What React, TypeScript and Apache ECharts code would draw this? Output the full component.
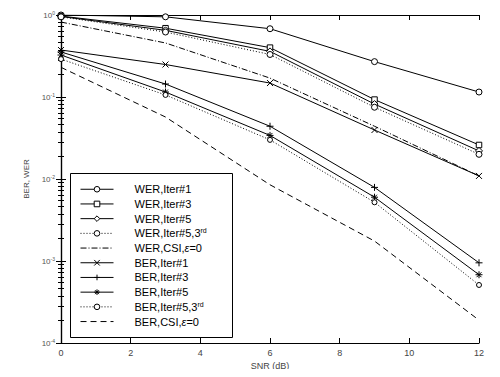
import React, { useEffect, useRef } from "react";
import * as echarts from "echarts";

const snr = [0, 3, 6, 9, 12];
const werIter1 = [1.0, 0.95, 0.68, 0.27, 0.115];
const werIter3 = [0.97, 0.69, 0.4, 0.093, 0.026];
const werIter5 = [0.96, 0.65, 0.36, 0.082, 0.022];
const werIter53 = [0.95, 0.62, 0.33, 0.075, 0.02];
const werCsi = [0.82, 0.456, 0.17, 0.044, 0.0109];
const berIter1 = [0.374, 0.249, 0.148, 0.0396, 0.0109];
const berIter3 = [0.354, 0.144, 0.044, 0.0079, 0.00095];
const berIter5 = [0.325, 0.115, 0.034, 0.006, 0.00068];
const berIter53 = [0.29, 0.106, 0.03, 0.0052, 0.00051];
const berCsi = [0.23, 0.057, 0.0085, 0.00175, 0.00019];

const names = [
  "WER,Iter#1",
  "WER,Iter#3",
  "WER,Iter#5",
  "WER,Iter#5,3rd",
  "WER,CSI,ε=0",
  "BER,Iter#1",
  "BER,Iter#3",
  "BER,Iter#5",
  "BER,Iter#5,3rd",
  "BER,CSI,ε=0",
];

const CIRCLE = "path://M0,5A5,5 0 1,0 10,5A5,5 0 1,0 0,5Z";
const SQUARE = "path://M0,0L10,0L10,10L0,10Z";
const DIAMOND = "path://M5,0L10,5L5,10L0,5Z";
const X_PATH = "path://M0,0L10,10M10,0L0,10";
const PLUS_PATH = "path://M5,0L5,10M0,5L10,5";
const STAR_PATH = "path://M5,0L5,10M0,5L10,5M1.5,1.5L8.5,8.5M8.5,1.5L1.5,8.5";

export default function App() {
  const ref = useRef<HTMLDivElement>(null);
  useEffect(() => {
    if (!ref.current) return;
    const chart = echarts.init(ref.current, undefined, { renderer: "svg" });
    const mk = (
      name: string,
      vals: number[],
      symbol: string,
      type: any,
      size = 6
    ) => ({
      name,
      type: "line",
      data: snr.map((x, i) => [x, vals[i]]),
      symbol,
      symbolSize: size,
      showSymbol: symbol !== "none",
      lineStyle: { color: "#000", width: 1, type },
      itemStyle: { color: "#fff", borderColor: "#000", borderWidth: 1 },
      emphasis: { disabled: true },
    });
    const series: any[] = [
      mk(names[0], werIter1, CIRCLE, "solid"),
      mk(names[1], werIter3, SQUARE, "solid", 5.5),
      mk(names[2], werIter5, DIAMOND, "solid", 7),
      mk(names[3], werIter53, CIRCLE, [1, 2]),
      mk(names[4], werCsi, "none", [6, 2, 1, 2]),
      mk(names[5], berIter1, X_PATH, "solid"),
      mk(names[6], berIter3, PLUS_PATH, "solid", 7),
      mk(names[7], berIter5, STAR_PATH, "solid", 7),
      mk(names[8], berIter53, CIRCLE, [1, 2], 5),
      mk(names[9], berCsi, "none", [6, 4]),
    ];
    const sup = (v: number) => `{b|10}{e|${Math.round(Math.log10(v))}}`;
    const legendFmt = (n: string) => {
      if (n.endsWith(",3rd")) return `${n.slice(0, -2)}{s|rd}`;
      if (n.includes("ε")) return n.replace("ε", "{i|ε}");
      return n;
    };
    const legendData = names.map((n) =>
      n.includes("CSI") ? { name: n, itemStyle: { opacity: 0 } } : { name: n }
    );
    chart.setOption({
      animation: false,
      backgroundColor: "#fff",
      textStyle: { fontFamily: "Liberation Sans, Arial, sans-serif" },
      grid: { left: 61, right: 21, top: 15, bottom: 34 },
      xAxis: [
        {
          type: "value",
          min: 0,
          max: 12,
          interval: 2,
          name: "SNR (dB)",
          nameLocation: "middle",
          nameGap: 15,
          nameTextStyle: { fontSize: 9, color: "#444" },
          axisLine: { lineStyle: { color: "#000", width: 1.2 } },
          axisTick: { inside: true, length: 5, lineStyle: { color: "#000" } },
          axisLabel: { fontSize: 9, color: "#444", margin: 5 },
          splitLine: { show: false },
        },
        {
          type: "value",
          position: "top",
          min: 0,
          max: 12,
          interval: 2,
          axisLine: { lineStyle: { color: "#000", width: 1.2 } },
          axisTick: { inside: true, length: 5, lineStyle: { color: "#000" } },
          axisLabel: { show: false },
          splitLine: { show: false },
        },
      ],
      yAxis: [
        {
          type: "log",
          min: 1e-4,
          max: 1,
          logBase: 10,
          name: "BER, WER",
          nameLocation: "middle",
          nameGap: 22,
          nameTextStyle: { fontSize: 8, color: "#444" },
          axisLine: { show: true, lineStyle: { color: "#000", width: 1.2 } },
          axisTick: { inside: true, length: 5, lineStyle: { color: "#000" } },
          minorTick: { show: true, splitNumber: 10, length: 3, lineStyle: { color: "#000" } },
          axisLabel: {
            formatter: sup,
            margin: 6,
            rich: {
              b: { fontSize: 8, color: "#555" },
              e: { fontSize: 5, color: "#555", verticalAlign: "top", padding: [0, 0, 5, 0] },
            },
          },
          splitLine: { show: false },
        },
        {
          type: "log",
          min: 1e-4,
          max: 1,
          logBase: 10,
          position: "right",
          axisLine: { show: true, lineStyle: { color: "#000", width: 1.2 } },
          axisTick: { inside: true, length: 5, lineStyle: { color: "#000" } },
          minorTick: { show: true, splitNumber: 10, length: 3, lineStyle: { color: "#000" } },
          axisLabel: { show: false },
          splitLine: { show: false },
        },
      ],
      legend: {
        orient: "vertical",
        left: 80,
        top: 183,
        z: 10,
        itemWidth: 33,
        itemHeight: 7,
        itemGap: 2.2,
        padding: 0,
        data: legendData,
        formatter: legendFmt,
        inactiveColor: "#000",
        selectedMode: false,
        lineStyle: { width: 1 },
        itemStyle: { borderWidth: 1 },
        textStyle: {
          fontSize: 11,
          lineHeight: 12.5,
          color: "#000",
          padding: [0, 0, 0, 16],
          rich: {
            s: { fontSize: 7, lineHeight: 12.5, verticalAlign: "top", padding: [0, 0, 5, 0] },
            i: { fontSize: 11, lineHeight: 12.5, fontStyle: "italic" },
          },
        },
      },
      graphic: [
        {
          type: "rect",
          shape: { x: 70.5, y: 173.5, width: 162, height: 164 },
          style: { fill: "#fff", stroke: "#000", lineWidth: 1 },
          z: 5,
        },
      ],
      series,
    });
    return () => chart.dispose();
  }, []);
  return <div ref={ref} style={{ width: 500, height: 377, margin: -8 }} />;
}
